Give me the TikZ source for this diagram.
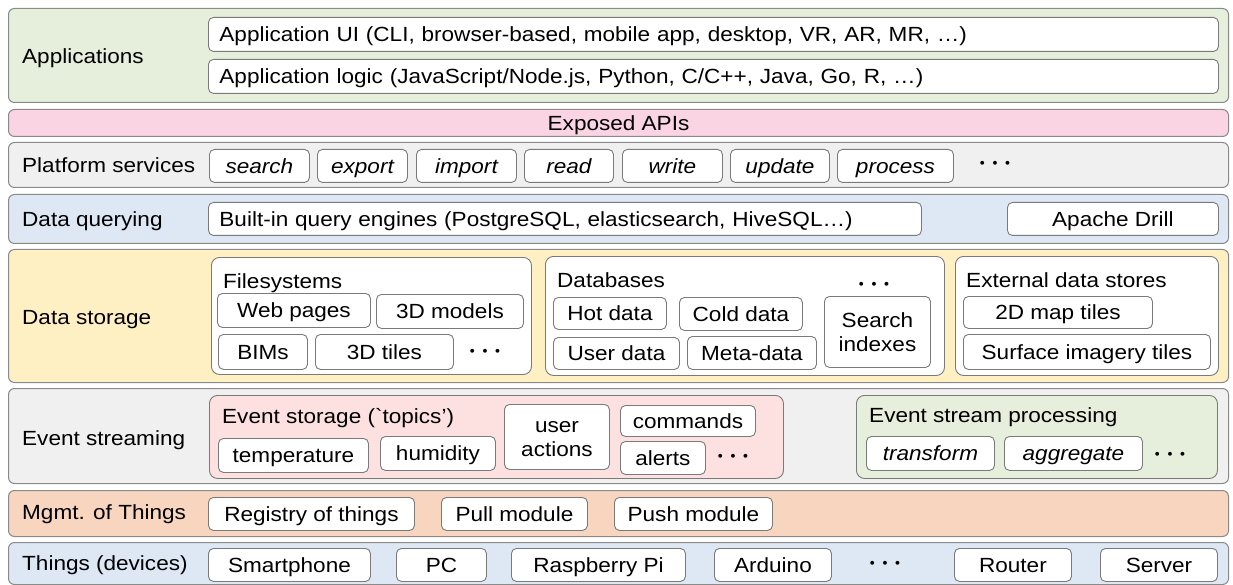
\documentclass[tikz,border=0pt]{standalone}
\usepackage{fontspec}
\setmainfont[FakeStretch=1.1]{Liberation Sans}
\newfontfamily\rawsans[FakeStretch=1.1, Ligatures=TeXOff]{Liberation Sans}
\usepackage{xcolor}
\usepackage{tikz}

\definecolor{tierline}{HTML}{8A8A8A}
\definecolor{boxline}{HTML}{7A7A7A}
\definecolor{appgreen}{HTML}{E6EFDC}
\definecolor{apipink}{HTML}{FAD4E2}
\definecolor{platgray}{HTML}{F0F0F0}
\definecolor{queryblue}{HTML}{DDE8F4}
\definecolor{storeyellow}{HTML}{FFF0C4}
\definecolor{topicpink}{HTML}{FDE0E0}
\definecolor{mgmtorange}{HTML}{F8D5BE}

% box from its top left (#3,#4) to its bottom right (#5,#6)
\newcommand{\cellbox}[7][]{%
  \node[box, anchor=north west, minimum width={#5-#3}, minimum height={#6-#4}, #1] (#2) at (#3,#4) {#7};}

\begin{document}
\begin{tikzpicture}[x=1pt, y=-1pt]
        \tikzstyle{txt}=[font=\fontsize{20.5}{24}\selectfont, text height=14.7pt, text depth=0pt]
        \tikzstyle{box}=[txt, draw=boxline, fill=white, line width=0.9pt, rounded corners=5pt, inner sep=0pt, align=center]
        \tikzstyle{twolines}=[text height=38.7pt]
        \tikzstyle{tier}=[draw=tierline, line width=1pt, rounded corners=6pt]
        \tikzstyle{container}=[rounded corners=8pt]
        \tikzstyle{svc}=[font=\fontsize{20.5}{24}\selectfont\itshape]
        \tikzstyle{caption}=[txt, anchor=west, inner sep=0pt]
        \tikzstyle{moredots}=[inner sep=0pt, font=\fontsize{24}{24}\selectfont\boldmath]
        \useasboundingbox (0,0) rectangle (1233,585);

        % Applications
        \cellbox[tier, fill=appgreen]{apps}{8}{8}{1228}{102}{}
        \node[caption] (appslbl) at (22,56) {Applications};
        \cellbox[align=left, text width=988pt, inner xsep=11pt]{appui}{208}{17}{1218}{51}{Application UI (CLI, browser-based, mobile app, desktop, VR, AR, MR, …)}
        \cellbox[align=left, text width=988pt, inner xsep=11pt]{applogic}{208}{59}{1218}{93}{Application logic (JavaScript/Node.js, Python, C/C++, Java, Go, R, …)}

        % Exposed APIs
        \cellbox[tier, fill=apipink]{apis}{8}{109}{1228}{136}{Exposed APIs}

        % Platform services
        \cellbox[tier, fill=platgray]{platform}{8}{142}{1228}{187}{}
        \node[caption] (platformlbl) at (22,165.5) {Platform services};
        \foreach \name/\xa/\xb in {search/209/309, export/317/407, import/416/516, read/524/613,
                                   write/622/722, update/730/829, process/837/953}
            \cellbox[svc]{\name}{\xa}{149}{\xb}{182}{\name};
        \node[moredots] (platformdots) at (995,164) {$\cdots$};

        % Data querying
        \cellbox[tier, fill=queryblue]{query}{8}{194}{1228}{243}{}
        \node[caption] (querylbl) at (22,219) {Data querying};
        \cellbox[align=left, text width=691pt, inner xsep=11pt]{engines}{208}{202}{921}{235}{Built-in query engines (PostgreSQL, elasticsearch, HiveSQL…)}
        \cellbox{drill}{1007}{202}{1218}{235}{Apache Drill}

        % Data storage
        \cellbox[tier, fill=storeyellow]{storage}{8}{249}{1228}{382}{}
        \node[caption] (storagelbl) at (22,317) {Data storage};
        \cellbox[container]{fs}{211}{257}{531}{374}{}
        \node[caption] (fstitle) at (223,281) {Filesystems};
        \cellbox{webpages}{217}{293}{370}{327}{Web pages}
        \cellbox{models}{376}{294}{523}{328}{3D models}
        \cellbox{bims}{218}{334}{307}{369}{BIMs}
        \cellbox{tiles}{315}{334}{453}{369}{3D tiles}
        \node[moredots] (fsdots) at (485,352) {$\cdots$};
        \cellbox[container]{db}{545}{256}{944}{375}{}
        \node[caption] (dbtitle) at (557,280) {Databases};
        \cellbox{hot}{553}{297}{666}{329}{Hot data}
        \cellbox{cold}{679}{297}{802}{330}{Cold data}
        \cellbox{user}{553}{337}{679}{369}{User data}
        \cellbox{meta}{687}{336}{816}{369}{Meta-data}
        \cellbox[twolines]{idx}{824}{296}{930}{367}{Search\\indexes}
        \node[moredots] (dbdots) at (874,285) {$\cdots$};
        \cellbox[container]{ext}{955}{256}{1218}{375}{}
        \node[caption] (exttitle) at (966,280) {External data stores};
        \cellbox{maptiles}{963}{296}{1152}{328}{2D map tiles}
        \cellbox{imagery}{963}{334}{1210}{369}{Surface imagery tiles}

        % Event streaming
        \cellbox[tier, fill=platgray]{events}{8}{388}{1228}{483}{}
        \node[caption] (eventslbl) at (22,438) {Event streaming};
        \cellbox[container, fill=topicpink]{topics}{209}{395}{783}{478}{}
        \node[caption] (topicstitle) at (222,416) {Event storage ({\rawsans`}topics’)};
        \cellbox{temp}{218}{438}{368}{472}{temperature}
        \cellbox{humid}{380}{436}{495}{470}{humidity}
        \cellbox[twolines]{actions}{504}{404}{609}{469}{user\\actions}
        \cellbox{commands}{620}{405}{755}{436}{commands}
        \cellbox{alerts}{620}{441}{705}{474}{alerts}
        \node[moredots] (topicdots) at (733,457) {$\cdots$};
        \cellbox[container, fill=appgreen]{esp}{856}{395}{1217}{478}{}
        \node[caption] (esptitle) at (869,415) {Event stream processing};
        \cellbox[svc]{transform}{866}{436}{994}{470}{transform}
        \cellbox[svc]{aggregate}{1004}{436}{1142}{470}{aggregate}
        \node[moredots] (espdots) at (1170,455) {$\cdots$};

        % Mgmt. of Things
        \cellbox[tier, fill=mgmtorange]{mgmt}{8}{490}{1228}{536}{}
        \node[caption] (mgmtlbl) at (22,512.5) {Mgmt. of Things};
        \cellbox{registry}{208}{497}{414}{530}{Registry of things}
        \cellbox{pull}{441}{497}{587}{530}{Pull module}
        \cellbox{push}{614}{497}{772}{530}{Push module}

        % Things (devices)
        \cellbox[tier, fill=queryblue]{things}{8}{542}{1228}{584}{}
        \node[caption] (thingslbl) at (22,563.5) {Things (devices)};
        \foreach \name/\txt/\xa/\xb in {phone/Smartphone/208/370, pc/PC/396/486, pi/Raspberry Pi/511/685,
                                        arduino/Arduino/714/831, router/Router/954/1071, server/Server/1100/1217}
            \cellbox{\name}{\xa}{548}{\xb}{581}{\txt};
        \node[moredots] (thingsdots) at (885,564) {$\cdots$};
\end{tikzpicture}
\end{document}
